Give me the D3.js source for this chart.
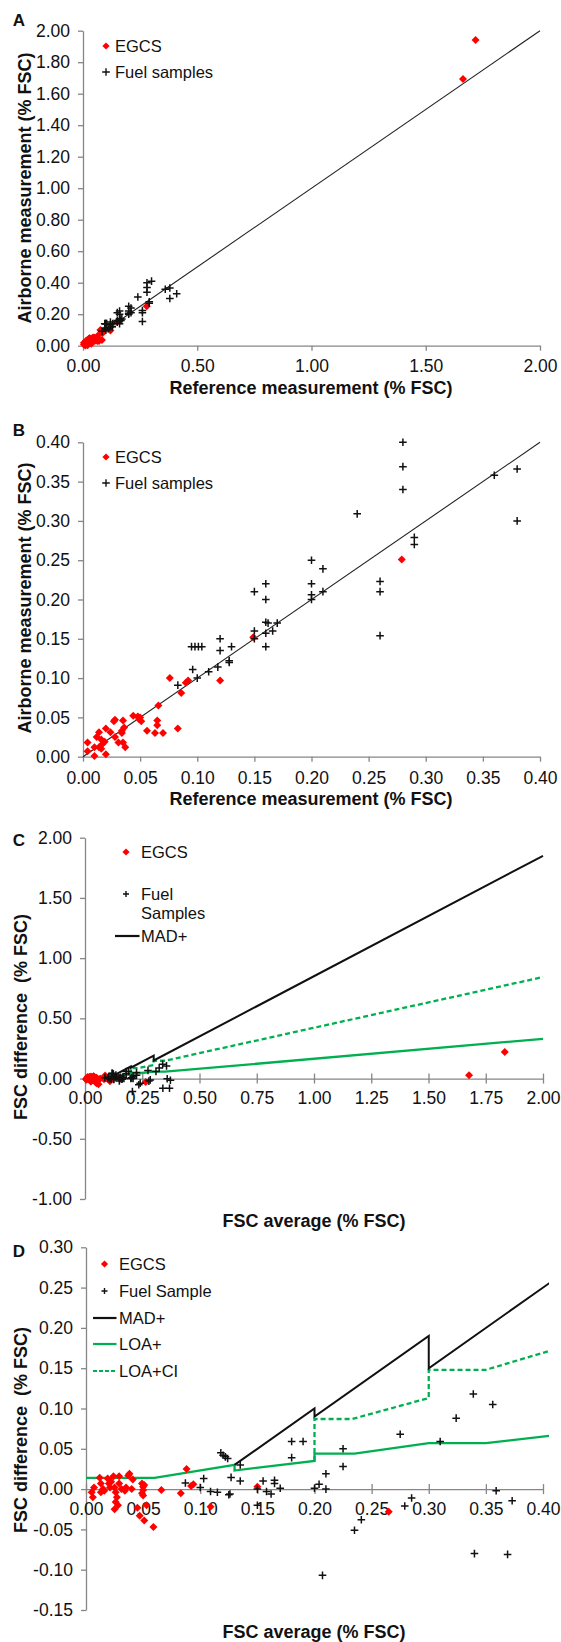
<!DOCTYPE html>
<html>
<head>
<meta charset="utf-8">
<script src="https://cdn.jsdelivr.net/npm/d3@7"></script>
<style>
body { margin: 0; background: #fff; }
svg { display: block; font-family: "Liberation Sans", Arial, sans-serif; }
.axis path, .axis line { stroke: #868686; stroke-width: 1.3; }
.axis text { font-size: 17.5px; fill: #111; font-family: "Liberation Sans", Arial, sans-serif; }
.title { font-size: 18px; font-weight: bold; fill: #111; }
.letter { font-size: 17px; font-weight: bold; fill: #111; }
.legend { font-size: 16.5px; fill: #111; }
</style>
</head>
<body>
<svg id="chart" width="561" height="1642"></svg>
<script>
// ---- Panels A & B: reference vs airborne measurement (% FSC)
const egcsRef = [0.004, 0.004, 0.010, 0.010, 0.012, 0.014, 0.014, 0.016, 0.017, 0.016, 0.019, 0.020, 0.020, 0.024,
    0.027, 0.028, 0.028, 0.031, 0.034, 0.035, 0.034, 0.036, 0.037, 0.035, 0.044, 0.048, 0.049, 0.051, 0.050,
    0.056, 0.066, 0.065, 0.065, 0.063, 0.070, 0.076, 0.083, 0.086, 0.090, 0.092, 0.120, 0.149, 0.279, 1.663, 1.718];
const egcsAir = [0.018, 0.007, 0.001, 0.012, 0.025, 0.031, 0.012, 0.022, 0.016, 0.010, 0.019, 0.003, 0.036, 0.031,
    0.045, 0.047, 0.025, 0.018, 0.030, 0.046, 0.033, 0.037, 0.012, 0.018, 0.052, 0.051, 0.048, 0.045, 0.050,
    0.033, 0.065, 0.046, 0.040, 0.030, 0.030, 0.100, 0.036, 0.081, 0.094, 0.097, 0.097, 0.152, 0.251, 1.693, 1.941];

const fuelRef = [0.28, 0.28, 0.28, 0.24, 0.36, 0.38, 0.38, 0.29, 0.29, 0.20, 0.21, 0.20, 0.20, 0.20, 0.21, 0.26,
    0.26, 0.26, 0.15, 0.16, 0.16, 0.16, 0.162, 0.17, 0.166, 0.16, 0.15, 0.15, 0.16, 0.12, 0.13, 0.12, 0.128,
    0.128, 0.118, 0.11, 0.10, 0.096, 0.095, 0.098, 0.101, 0.104, 0.083, 0.30, 0.41];
const fuelAir = [0.40, 0.369, 0.34, 0.309, 0.358, 0.366, 0.30, 0.279, 0.27, 0.25, 0.239, 0.22, 0.206, 0.20, 0.21, 0.223,
    0.21, 0.154, 0.21, 0.22, 0.20, 0.171, 0.17, 0.17, 0.16, 0.157, 0.16, 0.15, 0.14, 0.15, 0.14, 0.135, 0.122,
    0.12, 0.114, 0.108, 0.10, 0.111, 0.14, 0.14, 0.14, 0.14, 0.091, 0.41, 0.33];

// ---- Panels C & D: FSC average vs FSC difference (% FSC)
const egcsAvg = [0.006, 0.007, 0.005, 0.012, 0.013, 0.015, 0.013, 0.016, 0.019, 0.020, 0.021, 0.022, 0.024, 0.025,
    0.026, 0.027, 0.026, 0.028, 0.025, 0.029, 0.029, 0.031, 0.034, 0.035, 0.037, 0.038, 0.040, 0.041, 0.049,
    0.050, 0.050, 0.051, 0.049, 0.050, 0.045, 0.047, 0.051, 0.053, 0.059, 0.066, 0.083, 0.088, 0.092, 0.094,
    0.109, 0.150, 0.265, 1.677, 1.833];
const egcsDiff = [-0.010, 0.002, -0.004, 0.014, 0.007, 0.000, -0.004, -0.002, 0.013, 0.007, 0.002, 0.009, 0.016, 0.002,
    -0.004, -0.010, -0.016, -0.020, -0.025, 0.016, 0.007, 0.000, -0.002, 0.002, 0.017, 0.019, 0.000, 0.012, 0.007,
    0.003, -0.001, 0.005, -0.005, -0.008, -0.023, -0.033, -0.039, -0.020, -0.047, -0.001, -0.005, 0.025, 0.004, 0.006,
    -0.022, 0.003, -0.028, 0.028, 0.221];

const fuelAvg = [0.087, 0.100, 0.103, 0.109, 0.115, 0.125, 0.126, 0.127, 0.135, 0.135, 0.118, 0.120, 0.122, 0.124,
    0.150, 0.150, 0.155, 0.158, 0.162, 0.165, 0.165, 0.170, 0.180, 0.190, 0.180, 0.200, 0.204, 0.210, 0.210,
    0.225, 0.225, 0.235, 0.241, 0.207, 0.275, 0.279, 0.285, 0.310, 0.324, 0.339, 0.340, 0.356, 0.359, 0.369, 0.373];
const fuelDiff = [0.0075, 0.002, 0.013, -0.003, -0.004, -0.007, -0.006, 0.0145, 0.010, 0.030, 0.045, 0.042, 0.040, 0.038,
    0.000, -0.020, 0.010, -0.003, -0.006, 0.011, 0.007, 0.001, 0.059, 0.059, 0.039, 0.001, 0.006, 0.019, 0.000,
    0.050, 0.028, -0.051, -0.038, -0.107, 0.068, -0.021, -0.011, 0.059, 0.088, 0.118, -0.080, 0.105, -0.002, -0.081, -0.0145];

// limit lines
const madX = [0.13, 0.20, 0.20, 0.30, 0.30, 2.00];
const madY = [0.030, 0.100, 0.090, 0.190, 0.150, 1.850];
const loaX = [0.00, 0.06, 0.13, 0.13, 0.20, 0.20, 0.235, 0.30, 0.35, 2.00];
const loaY = [0.014, 0.014, 0.030, 0.023, 0.035, 0.044, 0.044, 0.057, 0.057, 0.330];
const loaCiX = [0.20, 0.20, 0.233, 0.30, 0.30, 0.35, 2.00];
const loaCiY = [0.035, 0.087, 0.087, 0.113, 0.148, 0.148, 0.843];

// tick values
const ticksA_x = [0, 0.5, 1.0, 1.5, 2.0];
const ticksA_y = d3.range(0, 11).map(i => i * 0.2);
const ticksB = d3.range(0, 9).map(i => i * 0.05);
const ticksC_x = d3.range(0, 9).map(i => i * 0.25);
const ticksC_y = [-1.0, -0.5, 0, 0.5, 1.0, 1.5, 2.0];
const ticksD_x = d3.range(0, 9).map(i => i * 0.05);
const ticksD_y = d3.range(-3, 7).map(i => i * 0.05);

const svg = d3.select("#chart");
const fmt = d => (Math.abs(d) < 1e-9 ? 0 : d).toFixed(2);

function diamond(r) { return `M0,${-r}L${r},0L0,${r}L${-r},0Z`; }
function plus(r) { return `M${-r},0H${r}M0,${-r}V${r}`; }

function drawPanel(p) {
    let x = d3.scaleLinear().domain(p.xDomain).range([p.left, p.right]);
    let y = d3.scaleLinear().domain(p.yDomain).range([p.bottom, p.top]);
    let g = svg.append("g");

    // y axis
    g.append("g").attr("class", "axis")
        .attr("transform", `translate(${p.left},0)`)
        .call(d3.axisLeft(y).tickValues(p.yTicks).tickFormat(fmt).tickSize(5).tickSizeOuter(0).tickPadding(8));

    // x axis at y = 0
    let y0 = y(0);
    let xa = g.append("g").attr("class", "axis")
        .attr("transform", `translate(0,${y0})`)
        .call(d3.axisBottom(x).tickValues(p.xTicks).tickFormat(fmt).tickSize(5).tickSizeOuter(0));
    if (p.crossTicks) {
        xa.selectAll(".tick line").attr("y1", -5).attr("y2", 5);
    }
    xa.selectAll(".tick text").attr("y", p.xLabelOff).attr("dy", "0.35em");

    // panel letter
    g.append("text").attr("class", "letter")
        .attr("x", 19).attr("y", p.letterY).attr("dy", "0.35em")
        .attr("text-anchor", "middle").text(p.letter);

    // axis titles
    g.append("text").attr("class", "title")
        .attr("x", p.xTitle[0]).attr("y", p.xTitle[1]).attr("dy", "0.35em")
        .attr("text-anchor", "middle").text(p.xLabel);
    g.append("text").attr("class", "title")
        .attr("transform", `translate(${p.yTitle[0]},${p.yTitle[1]}) rotate(-90)`)
        .attr("dy", "0.35em").attr("text-anchor", "middle")
        .style("white-space", "pre").text(p.yLabel);

    // clip for the plot
    let clipId = "clip" + p.letter;
    g.append("clipPath").attr("id", clipId).append("rect")
        .attr("x", p.left - 6).attr("y", p.top - 6)
        .attr("width", p.right - p.left + 12).attr("height", p.bottom - p.top + 12);
    let plot = g.append("g").attr("clip-path", `url(#${clipId})`);

    let line = d3.line().x(d => x(d[0])).y(d => y(d[1]));
    let inside = d => d[0] >= p.xDomain[0] && d[0] <= p.xDomain[1] * 1.001 &&
        d[1] >= p.yDomain[0] && d[1] <= p.yDomain[1] * 1.001;

    if (p.identity) {
        plot.append("path")
            .attr("d", line([[0, 0], [p.xDomain[1], p.yDomain[1]]]))
            .attr("stroke", "#222").attr("stroke-width", 1.1).attr("fill", "none");
    }
    if (p.limits) {
        plot.append("path").attr("d", line(d3.zip(loaX, loaY)))
            .attr("stroke", "#00b050").attr("stroke-width", 2.3).attr("fill", "none");
        plot.append("path").attr("d", line(d3.zip(loaCiX, loaCiY)))
            .attr("stroke", "#00b050").attr("stroke-width", 2.3).attr("fill", "none")
            .attr("stroke-dasharray", "5,3");
        plot.append("path").attr("d", line(d3.zip(madX, madY)))
            .attr("stroke", "#111").attr("stroke-width", 2).attr("fill", "none");
    }

    plot.selectAll(".egcs").data(d3.zip(p.ex, p.ey).filter(inside)).enter()
        .append("path").attr("class", "egcs")
        .attr("transform", d => `translate(${x(d[0])},${y(d[1])})`)
        .attr("d", diamond(4)).attr("fill", "#ff0000");

    plot.selectAll(".fuel").data(d3.zip(p.fx, p.fy).filter(inside)).enter()
        .append("path").attr("class", "fuel")
        .attr("transform", d => `translate(${x(d[0])},${y(d[1])})`)
        .attr("d", plus(3.8)).attr("stroke", "#111").attr("stroke-width", 1.5).attr("fill", "none");

    // legend
    let lg = g.append("g");
    p.legend.forEach(item => {
        if (item.type === "egcs") {
            lg.append("path").attr("transform", `translate(${item.mx},${item.y})`)
                .attr("d", diamond(3.6)).attr("fill", "#ff0000");
        } else if (item.type === "fuel") {
            lg.append("path").attr("transform", `translate(${item.mx},${item.y})`)
                .attr("d", plus(item.small ? 3 : 3.8)).attr("stroke", "#111").attr("stroke-width", 1.4);
        } else {
            lg.append("line").attr("x1", item.x1).attr("x2", item.x2)
                .attr("y1", item.y).attr("y2", item.y)
                .attr("stroke", item.color).attr("stroke-width", 2.2)
                .attr("stroke-dasharray", item.dash || null);
        }
        item.text.forEach((t, i) => {
            lg.append("text").attr("class", "legend")
                .attr("x", item.tx).attr("y", item.y + i * 19).attr("dy", "0.35em").text(t);
        });
    });
}

drawPanel({
    letter: "A", letterY: 20,
    xDomain: [0, 2], yDomain: [0, 2], left: 83, right: 540, top: 30.7, bottom: 345.7,
    xTicks: ticksA_x, yTicks: ticksA_y, xLabelOff: 20,
    xLabel: "Reference measurement (% FSC)", xTitle: [311, 388],
    yLabel: "Airborne measurement (% FSC)", yTitle: [25, 188],
    ex: egcsRef, ey: egcsAir, fx: fuelRef, fy: fuelAir, identity: true,
    legend: [
        {type: "egcs", mx: 106, tx: 115, y: 46, text: ["EGCS"]},
        {type: "fuel", mx: 106, tx: 115, y: 72, text: ["Fuel samples"]}
    ]
});

drawPanel({
    letter: "B", letterY: 430,
    xDomain: [0, 0.4], yDomain: [0, 0.4], left: 83, right: 540, top: 442.3, bottom: 756.7,
    xTicks: ticksB, yTicks: ticksB, xLabelOff: 21,
    xLabel: "Reference measurement (% FSC)", xTitle: [311, 799],
    yLabel: "Airborne measurement (% FSC)", yTitle: [25, 598],
    ex: egcsRef, ey: egcsAir, fx: fuelRef, fy: fuelAir, identity: true,
    legend: [
        {type: "egcs", mx: 106, tx: 115, y: 457, text: ["EGCS"]},
        {type: "fuel", mx: 106, tx: 115, y: 483, text: ["Fuel samples"]}
    ]
});

drawPanel({
    letter: "C", letterY: 840,
    xDomain: [0, 2], yDomain: [-1, 2], left: 85, right: 543, top: 837.7, bottom: 1199,
    xTicks: ticksC_x, yTicks: ticksC_y, xLabelOff: 19, crossTicks: true,
    xLabel: "FSC average (% FSC)", xTitle: [314, 1221],
    yLabel: "FSC difference  (% FSC)", yTitle: [21, 1017],
    ex: egcsAvg, ey: egcsDiff, fx: fuelAvg, fy: fuelDiff, limits: true,
    legend: [
        {type: "egcs", mx: 126, tx: 141, y: 852, text: ["EGCS"]},
        {type: "fuel", mx: 126, tx: 141, y: 894, text: ["Fuel", "Samples"], small: true},
        {type: "line", x1: 115, x2: 139.5, color: "#111", tx: 141, y: 936, text: ["MAD+"]}
    ]
});

drawPanel({
    letter: "D", letterY: 1251,
    xDomain: [0, 0.4], yDomain: [-0.15, 0.3], left: 86, right: 543, top: 1247.3, bottom: 1610,
    xTicks: ticksD_x, yTicks: ticksD_y, xLabelOff: 20, crossTicks: true,
    xLabel: "FSC average (% FSC)", xTitle: [314, 1632],
    yLabel: "FSC difference  (% FSC)", yTitle: [21, 1430],
    ex: egcsAvg, ey: egcsDiff, fx: fuelAvg, fy: fuelDiff, limits: true,
    legend: [
        {type: "egcs", mx: 104.5, tx: 119, y: 1264, text: ["EGCS"]},
        {type: "fuel", mx: 104.5, tx: 119, y: 1291, text: ["Fuel Sample"], small: true},
        {type: "line", x1: 93, x2: 116.5, color: "#111", tx: 119, y: 1318, text: ["MAD+"]},
        {type: "line", x1: 93, x2: 116.5, color: "#00b050", tx: 119, y: 1344, text: ["LOA+"]},
        {type: "line", x1: 93, x2: 116.5, color: "#00b050", dash: "4,2", tx: 119, y: 1371, text: ["LOA+CI"]}
    ]
});
</script>
</body>
</html>
